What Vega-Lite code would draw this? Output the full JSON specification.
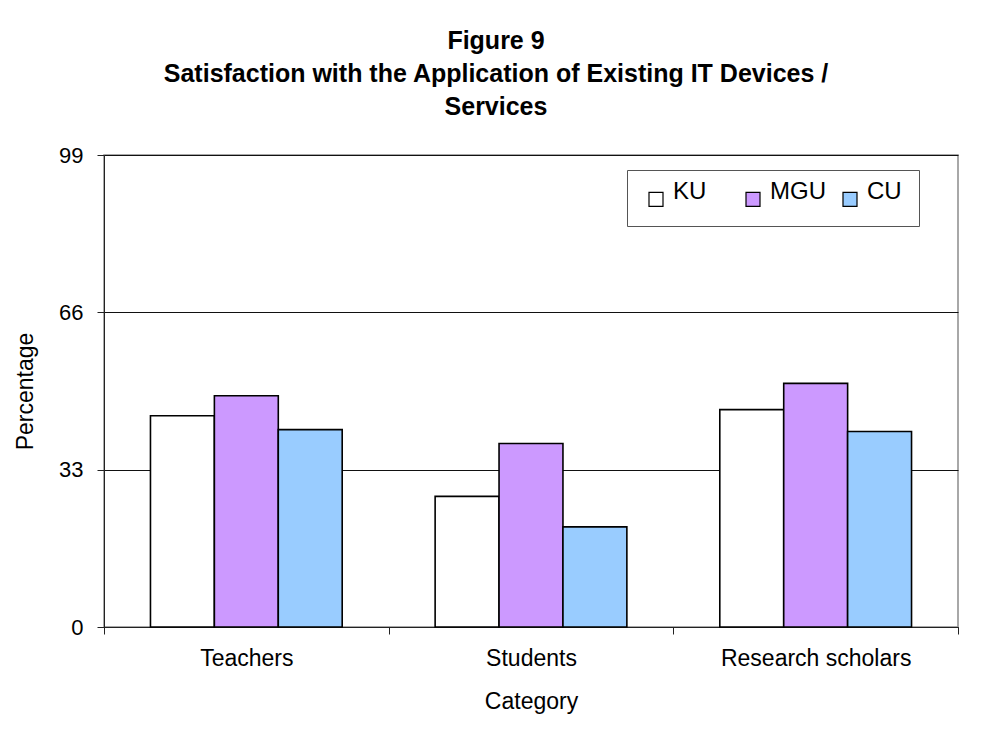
{
  "$schema": "https://vega.github.io/schema/vega-lite/v6.json",
  "width": 854,
  "height": 472,
  "autosize": "none",
  "padding": {"left": 104, "top": 155, "right": 42, "bottom": 113},
  "background": "white",
  "title": {
    "text": ["Figure 9", "Satisfaction with the Application of Existing IT Devices /", "Services"],
    "font": "Liberation Sans",
    "fontSize": 25,
    "fontWeight": "bold",
    "lineHeight": 33,
    "color": "black",
    "anchor": "middle",
    "dx": -35,
    "offset": 24
  },
  "data": {
    "values": [
      {"category": "Teachers", "university": "KU", "percentage": 44.3},
      {"category": "Teachers", "university": "MGU", "percentage": 48.5},
      {"category": "Teachers", "university": "CU", "percentage": 41.4},
      {"category": "Students", "university": "KU", "percentage": 27.4},
      {"category": "Students", "university": "MGU", "percentage": 38.5},
      {"category": "Students", "university": "CU", "percentage": 21.0},
      {"category": "Research scholars", "university": "KU", "percentage": 45.6},
      {"category": "Research scholars", "university": "MGU", "percentage": 51.1},
      {"category": "Research scholars", "university": "CU", "percentage": 41.0}
    ]
  },
  "mark": {"type": "bar", "stroke": "black", "strokeWidth": 1.6},
  "encoding": {
    "x": {
      "field": "category",
      "type": "nominal",
      "sort": ["Teachers", "Students", "Research scholars"],
      "scale": {"paddingInner": 0, "paddingOuter": 0},
      "axis": {
        "title": "Category",
        "labelAngle": 0,
        "labelLimit": 0,
        "labelFontSize": 23,
        "titleFontSize": 23,
        "tickBand": "extent",
        "tickSize": 7,
        "labelPadding": 13,
        "titlePadding": 20
      }
    },
    "xOffset": {
      "field": "university",
      "type": "nominal",
      "sort": ["KU", "MGU", "CU"],
      "scale": {"paddingInner": 0, "paddingOuter": 0.727}
    },
    "y": {
      "field": "percentage",
      "type": "quantitative",
      "scale": {"domain": [0, 99], "nice": false},
      "axis": {
        "title": "Percentage",
        "values": [0, 33, 66, 99],
        "labelFontSize": 22,
        "titleFontSize": 23,
        "tickSize": 7,
        "labelPadding": 14,
        "titlePadding": 21,
        "grid": true
      }
    },
    "fill": {
      "field": "university",
      "type": "nominal",
      "sort": ["KU", "MGU", "CU"],
      "scale": {"domain": ["KU", "MGU", "CU"], "range": ["#FFFFFF", "#CC99FF", "#99CCFF"]},
      "legend": {
        "title": null,
        "orient": "none",
        "legendX": 523,
        "legendY": 15,
        "direction": "horizontal",
        "columns": 3,
        "gridAlign": "all",
        "symbolType": "square",
        "symbolSize": 196,
        "symbolStrokeColor": "black",
        "labelFontSize": 24,
        "labelBaseline": "alphabetic",
        "labelOffset": 5,
        "columnPadding": 12,
        "padding": 17,
        "strokeColor": "#555555"
      }
    }
  },
  "config": {
    "font": "Liberation Sans",
    "view": {"stroke": "#8c8c8c", "strokeWidth": 1.5},
    "axis": {
      "labelFont": "Liberation Sans",
      "titleFont": "Liberation Sans",
      "titleFontWeight": "normal",
      "labelColor": "black",
      "titleColor": "black",
      "domainColor": "#222222",
      "tickColor": "#222222",
      "gridColor": "#111111",
      "gridWidth": 1
    },
    "axisX": {"grid": false},
    "legend": {"labelFont": "Liberation Sans", "labelColor": "black", "symbolStrokeWidth": 1.2}
  }
}
